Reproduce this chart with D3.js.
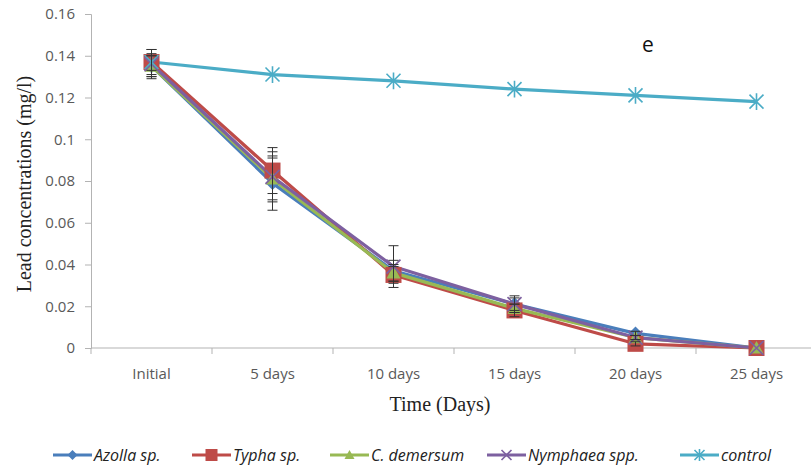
<!DOCTYPE html>
<html>
<head>
<meta charset="utf-8">
<script src="https://cdn.jsdelivr.net/npm/d3@7"></script>
<style>
  html, body { margin: 0; padding: 0; background: #fff; }
  svg { display: block; }
</style>
</head>
<body>
<svg id="chart" width="811" height="471"></svg>
<script>
// Time points
const categories = ["Initial", "5 days", "10 days", "15 days", "20 days", "25 days"];

// Lead concentration (mg/l) per treatment
const azolla    = [0.135, 0.079, 0.037, 0.021, 0.007, 0.000];
const typha     = [0.137, 0.085, 0.035, 0.018, 0.002, 0.000];
const demersum  = [0.135, 0.081, 0.036, 0.019, 0.005, 0.000];
const nymphaea  = [0.136, 0.082, 0.039, 0.021, 0.005, 0.000];
const control   = [0.137, 0.131, 0.128, 0.124, 0.121, 0.118];

// Standard deviations
const azollaErr   = [0.005, 0.013, 0.005, 0.003, 0.001, 0];
const typhaErr    = [0.006, 0.011, 0.004, 0.003, 0.001, 0];
const demersumErr = [0.005, 0.010, 0.004, 0.002, 0.001, 0];
const nymphaeaErr = [0.007, 0.012, 0.010, 0.004, 0.001, 0];
const controlErr  = [0.004, 0, 0, 0, 0, 0];

const yTicks = [0, 0.02, 0.04, 0.06, 0.08, 0.1, 0.12, 0.14, 0.16];

const series = [
  { name: "Azolla sp.",    values: azolla,   err: azollaErr,   color: "#4a7ebb", marker: "diamond" },
  { name: "Typha sp.",     values: typha,    err: typhaErr,    color: "#be4b48", marker: "square" },
  { name: "C. demersum",   values: demersum, err: demersumErr, color: "#98b954", marker: "triangle" },
  { name: "Nymphaea spp.", values: nymphaea, err: nymphaeaErr, color: "#7d60a0", marker: "x" },
  { name: "control",       values: control,  err: controlErr,  color: "#4bacc6", marker: "star" }
];

const svg = d3.select("#chart");
const plot = { left: 91, right: 817, top: 14, bottom: 348 };

const x = d3.scaleBand().domain(categories).range([plot.left, plot.right]);
const y = d3.scaleLinear().domain([0, 0.16]).range([plot.bottom, plot.top]);
const cx = c => x(c) + x.bandwidth() / 2;

const tickFont = "'Open Sans', 'Liberation Sans', sans-serif";
const axisColor = "#b3b3b3";
const textColor = "#595959";

// Y axis
const yAxis = svg.append("g")
  .attr("transform", `translate(${plot.left},0)`)
  .call(d3.axisLeft(y).tickValues(yTicks).tickSize(6).tickPadding(10)
        .tickFormat(d => d === 0 ? "0" : d3.format("")(+d.toFixed(2))));
yAxis.select(".domain").attr("stroke", axisColor);
yAxis.selectAll(".tick line").attr("stroke", axisColor);
yAxis.selectAll(".tick text")
  .attr("fill", textColor).style("font-family", tickFont).style("font-size", "15px");

// X axis (ticks sit between categories)
const xAxis = svg.append("g")
  .attr("transform", `translate(0,${plot.bottom})`);
xAxis.append("line")
  .attr("x1", plot.left).attr("x2", plot.right)
  .attr("stroke", axisColor);
const boundaries = categories.map(c => x(c)).concat([x(categories[categories.length - 1]) + x.bandwidth()]);
xAxis.selectAll("line.tick").data(boundaries).join("line")
  .attr("class", "tick")
  .attr("x1", d => d).attr("x2", d => d)
  .attr("y1", 0).attr("y2", 6)
  .attr("stroke", axisColor);
xAxis.selectAll("text").data(categories).join("text")
  .attr("x", d => cx(d)).attr("y", 31)
  .attr("text-anchor", "middle")
  .attr("fill", textColor)
  .style("font-family", tickFont).style("font-size", "15px")
  .text(d => d);

// Axis titles
svg.append("text")
  .attr("x", 440).attr("y", 411)
  .attr("text-anchor", "middle")
  .style("font-family", "'Liberation Serif', 'Times New Roman', serif")
  .style("font-size", "20px").attr("fill", "#222")
  .text("Time (Days)");
svg.append("text")
  .attr("transform", "translate(31,184) rotate(-90)")
  .attr("text-anchor", "middle")
  .style("font-family", "'Liberation Serif', 'Times New Roman', serif")
  .style("font-size", "20px").attr("fill", "#222")
  .text("Lead concentrations (mg/l)");

// Panel label
svg.append("text")
  .attr("x", 648).attr("y", 52)
  .attr("text-anchor", "middle")
  .style("font-family", tickFont).style("font-size", "21px").attr("fill", "#111")
  .text("e");

// Marker drawing
function drawMarker(g, type, color, size) {
  const s = size;
  if (type === "diamond") {
    g.append("path").attr("d", `M0,${-s}L${s},0L0,${s}L${-s},0Z`).attr("fill", color);
  } else if (type === "square") {
    g.append("rect").attr("x", -s).attr("y", -s).attr("width", 2 * s).attr("height", 2 * s).attr("fill", color);
  } else if (type === "triangle") {
    g.append("path").attr("d", `M0,${-s}L${s},${s * 0.8}L${-s},${s * 0.8}Z`).attr("fill", color);
  } else if (type === "x") {
    g.append("path").attr("d", `M${-s},${-s}L${s},${s}M${-s},${s}L${s},${-s}`)
      .attr("stroke", color).attr("stroke-width", 1.6).attr("fill", "none");
  } else if (type === "star") {
    g.append("path").attr("d", `M${-s},${-s}L${s},${s}M${-s},${s}L${s},${-s}M0,${-s * 1.2}L0,${s * 1.2}`)
      .attr("stroke", color).attr("stroke-width", 1.6).attr("fill", "none");
  }
}

const line = d3.line().x((d, i) => cx(categories[i])).y(d => y(d));

// Lines
series.forEach(s => {
  svg.append("path")
    .datum(s.values)
    .attr("d", line)
    .attr("fill", "none")
    .attr("stroke", s.color)
    .attr("stroke-width", 3.2)
    .attr("stroke-linejoin", "round");
});

// Markers
series.forEach(s => {
  s.values.forEach((v, i) => {
    const g = svg.append("g").attr("transform", `translate(${cx(categories[i])},${y(v)})`);
    drawMarker(g, s.marker, s.color, s.marker === "square" ? 8 : 7);
  });
});

// Error bars
series.forEach(s => {
  s.values.forEach((v, i) => {
    const e = s.err[i];
    if (!e) return;
    const px = cx(categories[i]);
    const g = svg.append("g").attr("stroke", "#333").attr("stroke-width", 1);
    g.append("line").attr("x1", px).attr("x2", px).attr("y1", y(v + e)).attr("y2", y(v - e));
    g.append("line").attr("x1", px - 5).attr("x2", px + 5).attr("y1", y(v + e)).attr("y2", y(v + e));
    g.append("line").attr("x1", px - 5).attr("x2", px + 5).attr("y1", y(v - e)).attr("y2", y(v - e));
  });
});

// Legend
const legendX = [53, 192, 330, 487, 680];
series.forEach((s, i) => {
  const g = svg.append("g").attr("transform", `translate(${legendX[i]},455)`);
  g.append("line").attr("x1", 0).attr("x2", 39).attr("stroke", s.color).attr("stroke-width", 3.2);
  const m = g.append("g").attr("transform", "translate(19.5,0)");
  drawMarker(m, s.marker, s.color, s.marker === "square" ? 6 : 5);
  g.append("text")
    .attr("x", 41).attr("y", 6)
    .style("font-family", tickFont).style("font-size", "16px").style("font-style", "italic")
    .attr("fill", "#222")
    .text(s.name);
});
</script>
</body>
</html>
